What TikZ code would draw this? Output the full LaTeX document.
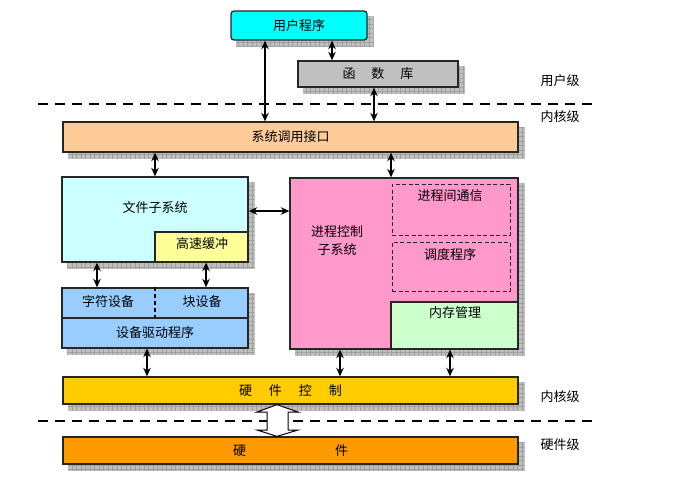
\documentclass[tikz,border=0pt]{standalone}
\usepackage{fontspec}
\setmainfont{Noto Sans CJK SC}
\usetikzlibrary{arrows.meta,patterns.meta,backgrounds}

\definecolor{usercol}{HTML}{00FFFF}
\definecolor{libcol}{HTML}{C0C0C0}
\definecolor{syscol}{HTML}{FFCC99}
\definecolor{fscol}{HTML}{CCFFFF}
\definecolor{cachecol}{HTML}{FFFF99}
\definecolor{proccol}{HTML}{FF99CC}
\definecolor{memcol}{HTML}{CCFFCC}
\definecolor{devcol}{HTML}{99CCFF}
\definecolor{hwccol}{HTML}{FFCC00}
\definecolor{hwcol}{HTML}{FF9900}

\begin{document}
\begin{tikzpicture}[x=1pt, y=-1pt,
    font=\fontsize{13}{15}\selectfont,
    box/.style={draw=black!85, line width=1.3pt, inner sep=0pt},
    dashbox/.style={draw=black!85, line width=0.8pt, dash pattern=on 4pt off 2.5pt, inner sep=0pt},
    link/.style={line width=1.5pt, {Stealth[length=8.5pt,width=7.5pt]}-{Stealth[length=8.5pt,width=7.5pt]}},
    level/.style={dash pattern=on 10pt off 7pt, line width=2pt},
    shadebox/.style={fill=libcol, postaction={pattern={Hatch[distance=4.5pt,line width=0.4pt]}, pattern color=gray!75}}]
    \useasboundingbox (0,0) rectangle (673,483);

    % User level
    \node[box, fill=usercol, rounded corners=3pt, minimum width=136pt, minimum height=29pt] (user) at (299,25.5) {用户程序};
    \node[box, fill=libcol, minimum width=160pt, minimum height=26pt] (lib) at (378,74) {函\hspace{16pt}数\hspace{16pt}库};
    \node (ulvl) at (560,81) {用户级};
    \draw[level] (38,104) -- (593,104);
    \node (klvl) at (560,117) {内核级};

    % Kernel
    \node[box, fill=syscol, minimum width=455pt, minimum height=30pt] (sys) at (290.5,137) {系统调用接口};

    % File subsystem
    \node[box, fill=fscol, minimum width=186pt, minimum height=85pt] (fs) at (155,219.5) {};
    \node (fstxt) at (155,208) {文件子系统};
    \node[box, fill=cachecol, minimum width=93pt, minimum height=30pt, anchor=south east] (cache) at (fs.south east) {};
    \node (cachetxt) at (202,244) {高速缓冲};

    % Devices
    \node[box, fill=devcol, minimum width=186pt, minimum height=30pt] (devrow) at (155,303) {};
    \node (chr) at (108,302) {字符设备};
    \node (blk) at (202,302) {块设备};
    \draw[line width=1.3pt, dash pattern=on 4pt off 3pt] (155,0 |- devrow.north) -- (155,0 |- devrow.south);
    \node[box, fill=devcol, minimum width=186pt, minimum height=30pt] (drv) at (155,333) {设备驱动程序};

    % Process control subsystem
    \node[box, fill=proccol, minimum width=228pt, minimum height=171pt] (proc) at (404,263.5) {};
    \node[align=center, font=\fontsize{13}{18}\selectfont] (proctxt) at (337,241) {进程控制\\子系统};
    \node[dashbox, minimum width=118pt, minimum height=51pt] (ipc) at (451,209.5) {};
    \node (ipctxt) at (450,196) {进程间通信};
    \node[dashbox, minimum width=118pt, minimum height=49pt] (sched) at (451,266.5) {};
    \node (schedtxt) at (450,255) {调度程序};
    \node[box, fill=memcol, minimum width=127pt, minimum height=47pt, anchor=south east] (mem) at (proc.south east) {};
    \node (memtxt) at (455,313) {内存管理};

    % Hardware control
    \node[box, fill=hwccol, minimum width=455pt, minimum height=27pt] (hwc) at (290.5,390.5) {硬\hspace{17pt}件\hspace{17pt}控\hspace{17pt}制};
    \node (klvl2) at (560,397) {内核级};
    \draw[level] (38,421) -- (593,421);
    \node[box, fill=hwcol, minimum width=455pt, minimum height=27pt] (hw) at (290.5,450.5) {硬\hspace{89pt}件};
    \node (hlvl) at (560,445) {硬件级};

    % shadows
    \begin{scope}[on background layer]
        \foreach \a/\b in {user/user, lib/lib, sys/sys, fs/fs, devrow/drv, proc/proc, hwc/hwc, hw/hw}
            \fill[shadebox] ([shift={(6,6)}]\a.north west) rectangle ([shift={(6,6)}]\b.south east);
    \end{scope}

    % connectors
    \draw[link] (265,0 |- user.south) -- (265,0 |- sys.north);
    \draw[link] (332,0 |- user.south) -- (332,0 |- lib.north);
    \draw[link] (374,0 |- lib.south) -- (374,0 |- sys.north);
    \draw[link] (155,0 |- sys.south) -- (155,0 |- fs.north);
    \draw[link] (391,0 |- sys.south) -- (391,0 |- proc.north);
    \draw[link] (fs.east |- 0,211) -- (proc.west |- 0,211);
    \draw[link] (97,0 |- fs.south) -- (97,0 |- devrow.north);
    \draw[link] (206,0 |- cache.south) -- (206,0 |- devrow.north);
    \draw[link] (147,0 |- drv.south) -- (147,0 |- hwc.north);
    \draw[link] (340,0 |- proc.south) -- (340,0 |- hwc.north);
    \draw[link] (450,0 |- mem.south) -- (450,0 |- hwc.north);

    % hollow arrow between hardware control and hardware
    \draw[line width=1pt, fill=white] (hwc.south -| 277,0) -- (298,412) -- (288,412) -- (288,430) -- (298,430)
        -- (hw.north -| 277,0) -- (257,430) -- (267,430) -- (267,412) -- (257,412) -- cycle;
\end{tikzpicture}
\end{document}
